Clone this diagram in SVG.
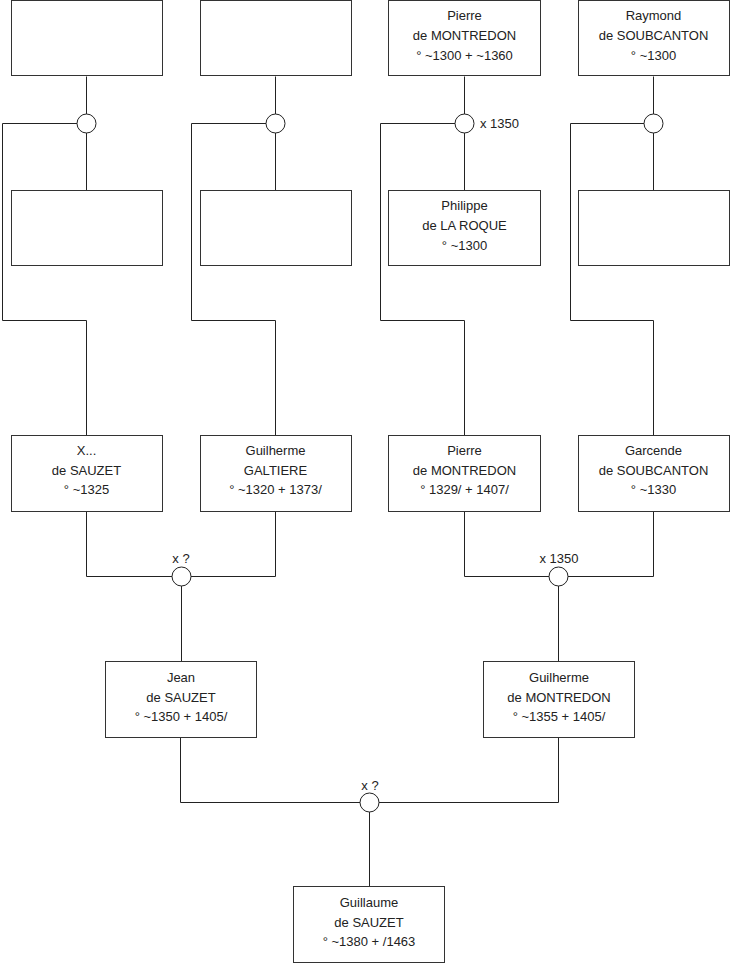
<svg xmlns="http://www.w3.org/2000/svg" width="740" height="975" viewBox="0 0 740 975">
<style>
.box{fill:#fff;stroke:#333;stroke-width:1}
.ln{fill:none;stroke:#222;stroke-width:1}
.ring{fill:#fff;stroke:#222;stroke-width:1}
text{font-family:"Liberation Sans",Arial,sans-serif;font-size:13px;fill:#222}
.c{text-anchor:middle}
</style>
<rect width="740" height="975" fill="#fff"/>
<g id="connectors">
<path class="ln" d="M86.5,76.5V190.5M77.5,123.5H2.5V320.5H86.5V435.5"/>
<path class="ln" d="M275.5,76.5V190.5M266.5,123.5H191.5V320.5H275.5V435.5"/>
<path class="ln" d="M464.5,76.5V190.5M455.5,123.5H380.5V320.5H464.5V435.5"/>
<path class="ln" d="M653.5,76.5V190.5M644.5,123.5H570.5V320.5H653.5V435.5"/>
<path class="ln" d="M86.5,511.5V576.5H275.5V511.5M181.5,576.5V661.5"/>
<path class="ln" d="M464.5,511.5V576.5H653.5V511.5M558.5,576.5V661.5"/>
<path class="ln" d="M180.5,737.5V802.5H558.5V737.5M369.5,802.5V886.5"/>
<circle class="ring" cx="86.5" cy="123.5" r="9.5"/>
<circle class="ring" cx="275.5" cy="123.5" r="9.5"/>
<circle class="ring" cx="464.5" cy="123.5" r="9.5"/>
<text x="480" y="128">x 1350</text>
<circle class="ring" cx="653.5" cy="123.5" r="9.5"/>
<circle class="ring" cx="181.5" cy="576.5" r="9.5"/>
<text class="c" x="181" y="563">x ?</text>
<circle class="ring" cx="558.5" cy="576.5" r="9.5"/>
<text class="c" x="559" y="563">x 1350</text>
<circle class="ring" cx="369.5" cy="802.5" r="9.5"/>
<text class="c" x="370" y="790">x ?</text>
</g>
<g id="n1"><rect class="box" x="11.5" y="0.5" width="151" height="75"/></g>
<g id="n2"><rect class="box" x="200.5" y="0.5" width="151" height="75"/></g>
<g id="n3"><rect class="box" x="388.5" y="0.5" width="152" height="75"/>
<text class="c" x="464.5" y="20">Pierre</text><text class="c" x="464.5" y="40">de MONTREDON</text><text class="c" x="464.5" y="60">° ~1300 + ~1360</text></g>
<g id="n4"><rect class="box" x="578.5" y="0.5" width="151" height="75"/>
<text class="c" x="653.5" y="20">Raymond</text><text class="c" x="653.5" y="40">de SOUBCANTON</text><text class="c" x="653.5" y="60">° ~1300</text></g>
<g id="n5"><rect class="box" x="11.5" y="190.5" width="151" height="75"/></g>
<g id="n6"><rect class="box" x="200.5" y="190.5" width="151" height="75"/></g>
<g id="n7"><rect class="box" x="388.5" y="190.5" width="152" height="75"/>
<text class="c" x="464.5" y="210">Philippe</text><text class="c" x="464.5" y="230">de LA ROQUE</text><text class="c" x="464.5" y="250">° ~1300</text></g>
<g id="n8"><rect class="box" x="578.5" y="190.5" width="151" height="75"/></g>
<g id="n9"><rect class="box" x="11.5" y="435.5" width="151" height="76"/>
<text class="c" x="86.5" y="455">X...</text><text class="c" x="86.5" y="475">de SAUZET</text><text class="c" x="86.5" y="494">° ~1325</text></g>
<g id="n10"><rect class="box" x="200.5" y="435.5" width="151" height="76"/>
<text class="c" x="275.5" y="455">Guilherme</text><text class="c" x="275.5" y="475">GALTIERE</text><text class="c" x="275.5" y="494">° ~1320 + 1373/</text></g>
<g id="n11"><rect class="box" x="388.5" y="435.5" width="152" height="76"/>
<text class="c" x="464.5" y="455">Pierre</text><text class="c" x="464.5" y="475">de MONTREDON</text><text class="c" x="464.5" y="494">° 1329/ + 1407/</text></g>
<g id="n12"><rect class="box" x="578.5" y="435.5" width="151" height="76"/>
<text class="c" x="653.5" y="455">Garcende</text><text class="c" x="653.5" y="475">de SOUBCANTON</text><text class="c" x="653.5" y="494">° ~1330</text></g>
<g id="n13"><rect class="box" x="105.5" y="661.5" width="151" height="76"/>
<text class="c" x="181" y="682">Jean</text><text class="c" x="181" y="702">de SAUZET</text><text class="c" x="181" y="721">° ~1350 + 1405/</text></g>
<g id="n14"><rect class="box" x="483.5" y="661.5" width="151" height="76"/>
<text class="c" x="559" y="682">Guilherme</text><text class="c" x="559" y="702">de MONTREDON</text><text class="c" x="559" y="721">° ~1355 + 1405/</text></g>
<g id="n15"><rect class="box" x="293.5" y="886.5" width="151" height="76"/>
<text class="c" x="369" y="907">Guillaume</text><text class="c" x="369" y="927">de SAUZET</text><text class="c" x="369" y="946">° ~1380 + /1463</text></g>
</svg>
